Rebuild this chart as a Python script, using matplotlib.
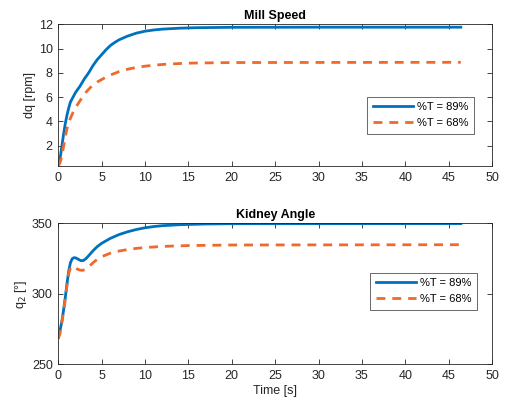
import matplotlib
matplotlib.use("Agg")
import matplotlib.pyplot as plt

plt.rcParams['font.family'] = ['Liberation Sans', 'DejaVu Sans']

# ---- data ----
t_speed_89 = [0, 0.2, 0.4, 0.6, 0.8, 1.0, 1.2, 1.4, 1.7, 2.0, 2.5, 3.0, 3.5, 4.0, 4.5,
              5.0, 5.5, 6.0, 6.5, 7.0, 8.0, 9.0, 10.0, 11.0, 12.0, 14.0, 16.0, 20.0, 30.0, 46.4]
speed_89 = [0.33, 0.9, 1.9, 2.9, 3.8, 4.5, 5.1, 5.6, 6.0, 6.4, 6.9, 7.5, 8.0, 8.6, 9.1,
            9.5, 9.9, 10.25, 10.5, 10.72, 11.03, 11.27, 11.43, 11.53, 11.6, 11.68, 11.72, 11.75, 11.76, 11.76]

t_speed_68 = [0, 0.2, 0.4, 0.6, 0.8, 1.0, 1.3, 1.7, 2.0, 2.5, 3.0, 3.5, 4.0, 4.5, 5.0,
              5.5, 6.0, 7.0, 8.0, 9.0, 10.0, 11.0, 12.5, 15.0, 20.0, 46.4]
speed_68 = [0.33, 0.6, 1.1, 1.9, 2.7, 3.4, 4.1, 4.75, 5.15, 5.7, 6.25, 6.65, 7.0, 7.25, 7.45,
            7.65, 7.82, 8.1, 8.3, 8.45, 8.55, 8.63, 8.72, 8.8, 8.85, 8.87]

t_angle_89 = [0, 0.2, 0.4, 0.6, 0.8, 1.0, 1.2, 1.4, 1.6, 1.8, 2.0, 2.3, 2.6, 2.9, 3.2, 3.5,
              4.0, 4.5, 5.0, 6.0, 7.0, 8.0, 9.0, 10.0, 11.0, 12.0, 14.0, 17.0, 20.0, 46.4]
angle_89 = [269, 274, 280, 288, 297, 307, 316, 322, 324.8, 325.6, 325.5, 324.5, 323.5, 323.6, 325, 327,
            330.5, 333.5, 335.8, 339.3, 342, 344, 345.6, 346.8, 347.7, 348.3, 349.0, 349.5, 349.7, 349.8]

t_angle_68 = [0, 0.2, 0.4, 0.6, 0.8, 1.0, 1.2, 1.4, 1.6, 1.9, 2.2, 2.5, 2.8, 3.1, 3.5,
              4.0, 4.5, 5.0, 6.0, 7.0, 8.0, 9.0, 10.0, 12.0, 15.0, 20.0, 46.4]
angle_68 = [268, 272, 279, 287, 296, 306, 314, 318.5, 319.5, 318.8, 317.5, 316.8, 316.6, 317.2, 319,
            322, 324.5, 326.3, 328.8, 330.3, 331.4, 332.2, 332.8, 333.6, 334.2, 334.6, 334.8]

labels = ['%T = 89%', '%T = 68%']
x_ticks = [0, 5, 10, 15, 20, 25, 30, 35, 40, 45, 50]
speed_ticks = [2, 4, 6, 8, 10, 12]
angle_ticks = [250, 300, 350]

BLUE = '#0072BD'
ORANGE = '#EE6A2C'
AX = '#262626'

fig = plt.figure(figsize=(5.05, 4.04), dpi=100)
ax1 = fig.add_axes([0.1154, 0.589, 0.8589, 0.3509])
ax2 = fig.add_axes([0.1154, 0.0983, 0.8589, 0.349])

def style(ax):
    for s in ax.spines.values():
        s.set_color(AX)
        s.set_linewidth(0.6)
    ax.tick_params(direction='in', top=True, right=True, length=3.5, width=0.6,
                   colors=AX, labelsize=9, pad=4)

def add_legend(ax, x0, y1):
    leg = ax.legend(loc='upper left', bbox_to_anchor=(x0, y1),
                    fontsize=8, frameon=True, fancybox=False, handlelength=3.6,
                    handletextpad=0.35, borderpad=0.5, labelspacing=0.55,
                    borderaxespad=0)
    leg.get_frame().set_edgecolor(AX)
    leg.get_frame().set_linewidth(0.6)
    return leg

ax1.plot(t_speed_89, speed_89, color=BLUE, lw=2.0, label=labels[0])
ax1.plot(t_speed_68, speed_68, color=ORANGE, lw=2.0, dashes=(3.2, 2.5), label=labels[1])
ax1.set_xlim(0, 50)
ax1.set_ylim(0.33, 12)
ax1.set_xticks(x_ticks)
ax1.set_yticks(speed_ticks)
ax1.set_ylabel('dq [rpm]', fontsize=9, color=AX, labelpad=2)
ax1.set_title('Mill Speed', fontsize=9, fontweight='bold', pad=4)
style(ax1)
add_legend(ax1, 0.712, 0.49)

ax2.plot(t_angle_89, angle_89, color=BLUE, lw=2.0, label=labels[0])
ax2.plot(t_angle_68, angle_68, color=ORANGE, lw=2.0, dashes=(3.2, 2.5), label=labels[1])
ax2.set_xlim(0, 50)
ax2.set_ylim(250, 350)
ax2.set_xticks(x_ticks)
ax2.set_yticks(angle_ticks)
ax2.set_ylabel('q$_2$ [°]', fontsize=9, color=AX, labelpad=2)
ax2.set_xlabel('Time [s]', fontsize=9, color=AX, labelpad=2)
ax2.set_title('Kidney Angle', fontsize=9, fontweight='bold', pad=4)
style(ax2)
add_legend(ax2, 0.719, 0.65)

fig.savefig('out.png', dpi=100, facecolor='white')
